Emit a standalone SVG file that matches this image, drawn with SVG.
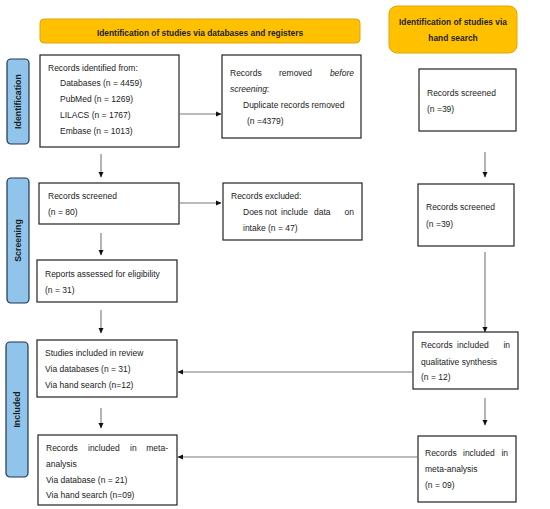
<svg xmlns="http://www.w3.org/2000/svg" width="550" height="509" viewBox="0 0 550 509">
<defs>
<marker id="ah" markerWidth="6" markerHeight="6" refX="5" refY="3" orient="auto" markerUnits="userSpaceOnUse">
<path d="M0,0.5 L5.5,3 L0,5.5 Z" fill="#111"/>
</marker>
<style>
.box{fill:#fff;stroke:#222;stroke-width:1.2}
.hdr{fill:#FFC000;stroke:#E3A40A;stroke-width:1}
.tab{fill:#90C4EA;stroke:#1E3550;stroke-width:1.2}
.t{font-family:"Liberation Sans",Arial,sans-serif;font-size:8.5px;fill:#222}
.b{font-family:"Liberation Sans",Arial,sans-serif;font-size:8.4px;font-weight:bold;fill:#222}
.tabt{font-family:"Liberation Sans",Arial,sans-serif;font-size:8.8px;font-weight:bold;fill:#1a1a1a}
.c{stroke:#777;stroke-width:1.1;fill:none;marker-end:url(#ah)}
</style>
</defs>
<rect width="550" height="509" fill="#fff"/>

<g id="header-db">
<rect class="hdr" x="40" y="19" width="320" height="24" rx="4"/>
<text class="b" x="200" y="36" text-anchor="middle">Identification of studies via databases and registers</text>
</g>
<g id="header-hand">
<rect class="hdr" x="389" y="6" width="128" height="47" rx="8"/>
<text class="b" x="453" y="25" text-anchor="middle">Identification of studies via</text>
<text class="b" x="453" y="41" text-anchor="middle">hand search</text>
</g>

<g id="tab-identification">
<rect class="tab" x="7" y="59" width="22" height="85" rx="4"/>
<text class="tabt" transform="translate(21,101.5) rotate(-90)" text-anchor="middle">Identification</text>
</g>
<g id="tab-screening">
<rect class="tab" x="7" y="178" width="22" height="125" rx="4"/>
<text class="tabt" transform="translate(21,240.5) rotate(-90)" text-anchor="middle">Screening</text>
</g>
<g id="tab-included">
<rect class="tab" x="6" y="342" width="22" height="135" rx="4"/>
<text class="tabt" transform="translate(20,409.5) rotate(-90)" text-anchor="middle">Included</text>
</g>

<g id="records-identified">
<rect class="box" x="40" y="55" width="139" height="92"/>
<text class="t" x="48" y="71">Records identified from:</text>
<text class="t" x="60" y="86">Databases (n = 4459)</text>
<text class="t" x="60" y="102">PubMed (n = 1269)</text>
<text class="t" x="60" y="118">LILACS (n = 1767)</text>
<text class="t" x="60" y="134">Embase (n = 1013)</text>
</g>

<g id="records-removed">
<rect class="box" x="222" y="55" width="139" height="83"/>
<text class="t" y="76"><tspan x="230">Records</tspan><tspan x="279">removed</tspan><tspan x="354" text-anchor="end" font-style="italic">before</tspan></text>
<text class="t" x="230" y="92" font-style="italic">screening<tspan font-style="normal">:</tspan></text>
<text class="t" x="243" y="108">Duplicate records removed</text>
<text class="t" x="247" y="124">(n =4379)</text>
</g>

<g id="hand-screened-1">
<rect class="box" x="419" y="69" width="97" height="62"/>
<text class="t" x="427" y="96">Records screened</text>
<text class="t" x="427" y="112">(n =39)</text>
</g>

<g id="records-screened">
<rect class="box" x="39" y="183" width="140" height="41"/>
<text class="t" x="48" y="199">Records screened</text>
<text class="t" x="48" y="215">(n = 80)</text>
</g>

<g id="records-excluded">
<rect class="box" x="223" y="183" width="139" height="57"/>
<text class="t" x="231" y="199">Records excluded:</text>
<text class="t" y="215"><tspan x="243">Does</tspan><tspan x="265">not</tspan><tspan x="281">include</tspan><tspan x="314">data</tspan><tspan x="354" text-anchor="end">on</tspan></text>
<text class="t" x="243" y="231">intake (n = 47)</text>
</g>

<g id="hand-screened-2">
<rect class="box" x="418" y="184" width="96" height="62"/>
<text class="t" x="426" y="210">Records screened</text>
<text class="t" x="426" y="227">(n =39)</text>
</g>

<g id="reports-assessed">
<rect class="box" x="37" y="260" width="140" height="42"/>
<text class="t" x="45" y="277">Reports assessed for eligibility</text>
<text class="t" x="45" y="293">(n = 31)</text>
</g>

<g id="studies-included">
<rect class="box" x="37" y="340" width="140" height="57"/>
<text class="t" x="45" y="356">Studies included in review</text>
<text class="t" x="45" y="372">Via databases (n = 31)</text>
<text class="t" x="45" y="388">Via hand search (n=12)</text>
</g>

<g id="hand-qualitative">
<rect class="box" x="413" y="332" width="105" height="57"/>
<text class="t" y="348"><tspan x="421">Records</tspan><tspan x="457">included</tspan><tspan x="510" text-anchor="end">in</tspan></text>
<text class="t" x="421" y="365">qualitative synthesis</text>
<text class="t" x="421" y="380">(n = 12)</text>
</g>

<g id="meta-analysis">
<rect class="box" x="38" y="435" width="139" height="70"/>
<text class="t" y="451"><tspan x="46">Records</tspan><tspan x="88">included</tspan><tspan x="130">in</tspan><tspan x="168" text-anchor="end">meta-</tspan></text>
<text class="t" x="46" y="467">analysis</text>
<text class="t" x="46" y="483">Via database (n = 21)</text>
<text class="t" x="46" y="498">Via hand search (n=09)</text>
</g>

<g id="hand-meta">
<rect class="box" x="418" y="436" width="98" height="66"/>
<text class="t" y="456"><tspan x="425">Records</tspan><tspan x="463">included</tspan><tspan x="508" text-anchor="end">in</tspan></text>
<text class="t" x="425" y="472">meta-analysis</text>
<text class="t" x="425" y="488">(n = 09)</text>
</g>

<g id="connectors">
<line class="c" x1="179" y1="114" x2="221" y2="114"/>
<line class="c" x1="101" y1="154" x2="101" y2="177"/>
<line class="c" x1="485" y1="152" x2="485" y2="177"/>
<line class="c" x1="179" y1="203" x2="221" y2="203"/>
<line class="c" x1="101" y1="233" x2="101" y2="255"/>
<line class="c" x1="485" y1="252" x2="485" y2="332"/>
<line class="c" x1="101" y1="310" x2="101" y2="333"/>
<line class="c" x1="413" y1="372" x2="178" y2="372"/>
<line class="c" x1="101" y1="408" x2="101" y2="428"/>
<line class="c" x1="485" y1="398" x2="485" y2="425"/>
<line class="c" x1="418" y1="457" x2="178" y2="457"/>
</g>
</svg>
